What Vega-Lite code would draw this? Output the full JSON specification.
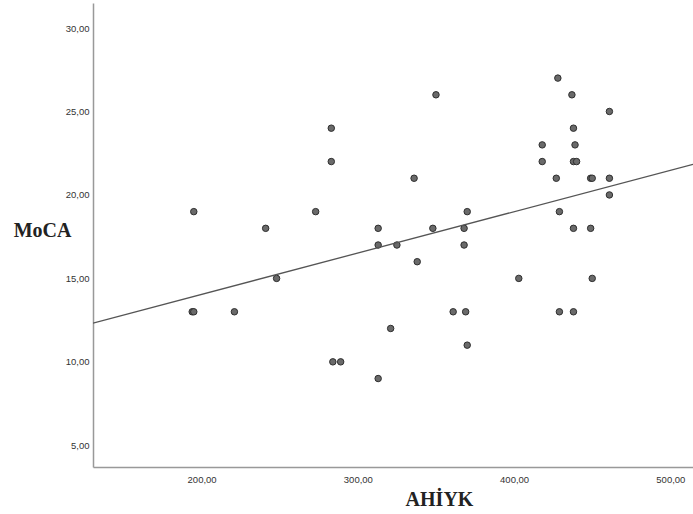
{
  "$schema": "https://vega.github.io/schema/vega-lite/v6.json",
  "width": 600,
  "height": 464,
  "autosize": "none",
  "padding": {"left": 93, "top": 3, "right": 0, "bottom": 47},
  "background": "white",
  "config": {"view": {"stroke": null}},
  "data": {"values": [
    {"AHIYK": 195, "MoCA": 19},
    {"AHIYK": 194, "MoCA": 13},
    {"AHIYK": 195, "MoCA": 13},
    {"AHIYK": 221, "MoCA": 13},
    {"AHIYK": 241, "MoCA": 18},
    {"AHIYK": 248, "MoCA": 15},
    {"AHIYK": 273, "MoCA": 19},
    {"AHIYK": 283, "MoCA": 24},
    {"AHIYK": 283, "MoCA": 22},
    {"AHIYK": 284, "MoCA": 10},
    {"AHIYK": 289, "MoCA": 10},
    {"AHIYK": 313, "MoCA": 18},
    {"AHIYK": 313, "MoCA": 17},
    {"AHIYK": 313, "MoCA": 9},
    {"AHIYK": 321, "MoCA": 12},
    {"AHIYK": 325, "MoCA": 17},
    {"AHIYK": 336, "MoCA": 21},
    {"AHIYK": 338, "MoCA": 16},
    {"AHIYK": 348, "MoCA": 18},
    {"AHIYK": 350, "MoCA": 26},
    {"AHIYK": 361, "MoCA": 13},
    {"AHIYK": 368, "MoCA": 18},
    {"AHIYK": 368, "MoCA": 17},
    {"AHIYK": 369, "MoCA": 13},
    {"AHIYK": 370, "MoCA": 19},
    {"AHIYK": 370, "MoCA": 11},
    {"AHIYK": 403, "MoCA": 15},
    {"AHIYK": 418, "MoCA": 23},
    {"AHIYK": 418, "MoCA": 22},
    {"AHIYK": 427, "MoCA": 21},
    {"AHIYK": 428, "MoCA": 27},
    {"AHIYK": 429, "MoCA": 19},
    {"AHIYK": 429, "MoCA": 13},
    {"AHIYK": 437, "MoCA": 26},
    {"AHIYK": 438, "MoCA": 24},
    {"AHIYK": 439, "MoCA": 23},
    {"AHIYK": 438, "MoCA": 22},
    {"AHIYK": 440, "MoCA": 22},
    {"AHIYK": 438, "MoCA": 18},
    {"AHIYK": 438, "MoCA": 13},
    {"AHIYK": 449, "MoCA": 21},
    {"AHIYK": 450, "MoCA": 21},
    {"AHIYK": 449, "MoCA": 18},
    {"AHIYK": 450, "MoCA": 15},
    {"AHIYK": 461, "MoCA": 25},
    {"AHIYK": 461, "MoCA": 21},
    {"AHIYK": 461, "MoCA": 20}
  ]},
  "encoding": {
    "x": {
      "field": "AHIYK", "type": "quantitative",
      "scale": {"domain": [130.5, 514.5], "nice": false, "zero": false},
      "axis": {
        "values": [200, 300, 400, 500],
        "labelExpr": "replace(format(datum.value, '.2f'), '.', ',')",
        "grid": false, "ticks": false, "labelPadding": 7,
        "labelFont": "Liberation Sans", "labelFontSize": 9.5, "labelColor": "#333",
        "domainColor": "#999", "domainWidth": 1.5,
        "title": "AHİYK", "titleFont": "Liberation Serif", "titleFontSize": 20,
        "titleFontWeight": "bold", "titleColor": "#222",
        "titleX": 346, "titleY": 38, "titleBaseline": "alphabetic", "titleAlign": "center"
      }
    },
    "y": {
      "field": "MoCA", "type": "quantitative",
      "scale": {"domain": [3.7, 31.5], "nice": false, "zero": false},
      "axis": {
        "values": [5, 10, 15, 20, 25, 30],
        "labelExpr": "replace(format(datum.value, '.2f'), '.', ',')",
        "grid": false, "ticks": false, "labelPadding": 4,
        "labelFont": "Liberation Sans", "labelFontSize": 9.5, "labelColor": "#333",
        "domainColor": "#999", "domainWidth": 1.5,
        "title": "MoCA", "titleFont": "Liberation Serif", "titleFontSize": 20,
        "titleFontWeight": "bold", "titleColor": "#222", "titleAngle": 0,
        "titleX": -51, "titleY": 227, "titleBaseline": "middle", "titleAlign": "center"
      }
    }
  },
  "layer": [
    {
      "mark": {"type": "point", "shape": "circle", "filled": true, "size": 42,
               "fill": "#6a6a6a", "stroke": "#2e2e2e", "strokeWidth": 1, "opacity": 1}
    },
    {
      "transform": [{"regression": "MoCA", "on": "AHIYK", "extent": [130.5, 514.5]}],
      "mark": {"type": "line", "color": "#555", "strokeWidth": 1.3, "clip": true}
    }
  ]
}
